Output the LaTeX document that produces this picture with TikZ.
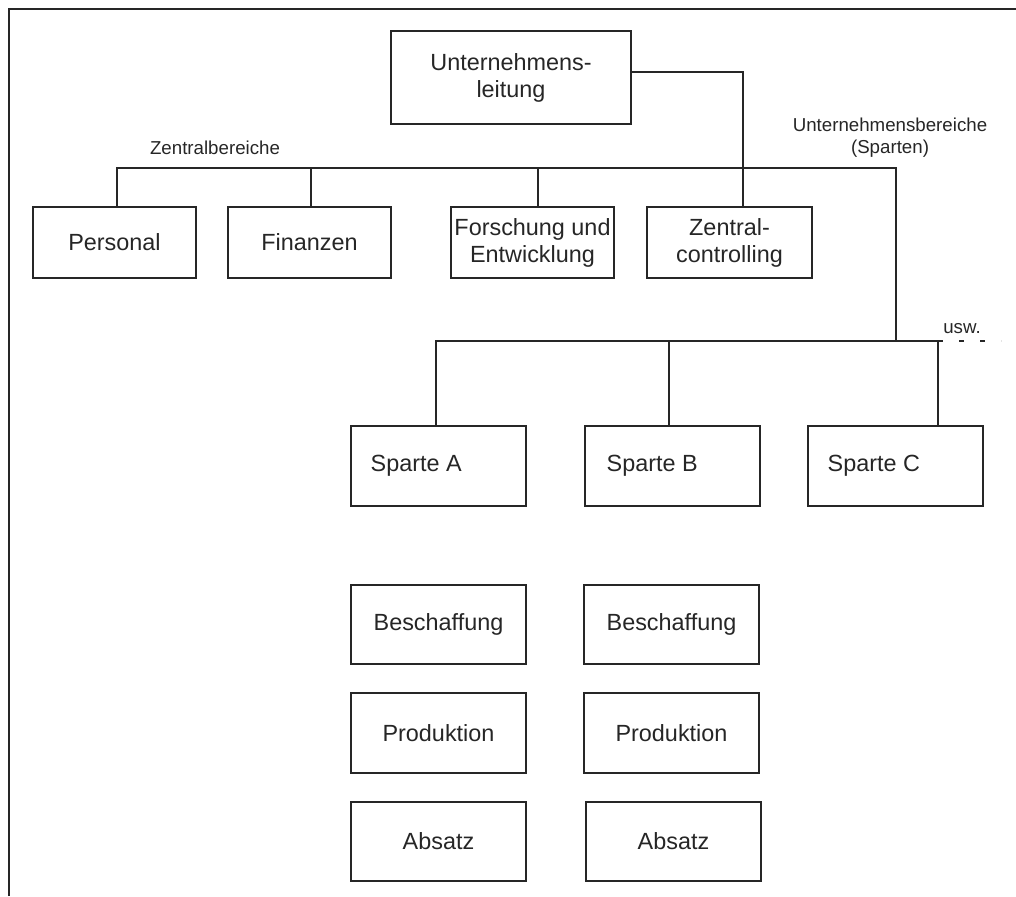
\documentclass[tikz,border=0pt]{standalone}
\usepackage{fontspec}
\setmainfont{Liberation Sans}
\begin{document}
\begin{tikzpicture}[x=1pt,y=-1pt,
  line width=1.4pt, color={black!85},
  orgbox/.style={draw, line width=1.5pt, inner sep=0pt, align=center,
    font=\fontsize{23.4}{27}\selectfont},
  wide/.style={minimum width=175pt, minimum height=80pt},
  mid/.style={minimum width=163pt, minimum height=71pt},
  lbl/.style={align=center, inner sep=0pt, font=\fontsize{18.7}{22}\selectfont},
  sparte/.style={font=\fontsize{23.4}{27}\selectfont, inner sep=0pt, anchor=west},
  frame/.style={line width=2pt}]
\useasboundingbox (0,0) rectangle (1016,896);
% frame (top and left only)
\draw[frame] (9,896) -- (9,9) -- (1016,9);

% top
\node[orgbox, minimum width=240pt, minimum height=93pt] (ul) at (511,77.5) {Unternehmens-\\leitung};

% Zentralbereiche row
\node[orgbox, mid] (pers) at (114.5,242.5) {Personal};
\node[orgbox, mid] (fin)  at (309.5,242.5) {Finanzen};
\node[orgbox, mid] (fue)  at (532.5,242.5) {Forschung und\\Entwicklung};
\node[orgbox, mid, minimum width=165pt] (zc) at (729.5,242.5) {Zentral-\\controlling};

% Sparten
\node[orgbox, wide] (spA) at (438.5,466) {};
\node[orgbox, wide] (spB) at (672.5,466) {};
\node[orgbox, wide] (spC) at (895.5,466) {};
\node[sparte] (tA) at (370,466) {Sparte A};
\node[sparte] (tB) at (606,466) {Sparte B};
\node[sparte] (tC) at (827,466) {Sparte C};

% functional boxes
\node[orgbox, wide, minimum height=79pt] (beA) at (438.5,624.5) {Beschaffung};
\node[orgbox, wide, minimum height=79pt] (beB) at (671.5,624.5) {Beschaffung};
\node[orgbox, wide] (prA) at (438.5,733) {Produktion};
\node[orgbox, wide] (prB) at (671.5,733) {Produktion};
\node[orgbox, wide, minimum height=79pt] (abA) at (438.5,841.5) {Absatz};
\node[orgbox, wide, minimum height=79pt] (abB) at (673.5,841.5) {Absatz};

% labels
\node[lbl] (lz) at (215,148) {Zentralbereiche};
\node[lbl] (lu) at (890,138) {Unternehmensbereiche\\(Sparten)};
\node[lbl] (lusw) at (962,329) {usw.};

% junction coordinates
\coordinate (ulR) at ([yshift=5.5pt]ul.east);
\coordinate (cTop) at (743,72);
\coordinate (hL) at (117,168);
\coordinate (hF) at (311,168);
\coordinate (hE) at (538,168);
\coordinate (hR) at (896,168);
\coordinate (sJ) at (896,341);
\coordinate (sA) at (436,341);
\coordinate (sB) at (669,341);
\coordinate (sC) at (938,341);
\coordinate (sEnd) at (1001,341);

% connectors
\draw (ulR) -- (cTop) -- (cTop |- zc.north);
\draw (hL |- pers.north) -- (hL) -- (hR) -- (sJ);
\draw (hF) -- (hF |- fin.north);
\draw (hE) -- (hE |- fue.north);
\draw (sA |- spA.north) -- (sA) -- (sC) -- (sC |- spC.north);
\draw (sB) -- (sB |- spB.north);
\draw[dash pattern=on 5pt off 16pt] (sC) -- (sEnd);
\end{tikzpicture}
\end{document}
